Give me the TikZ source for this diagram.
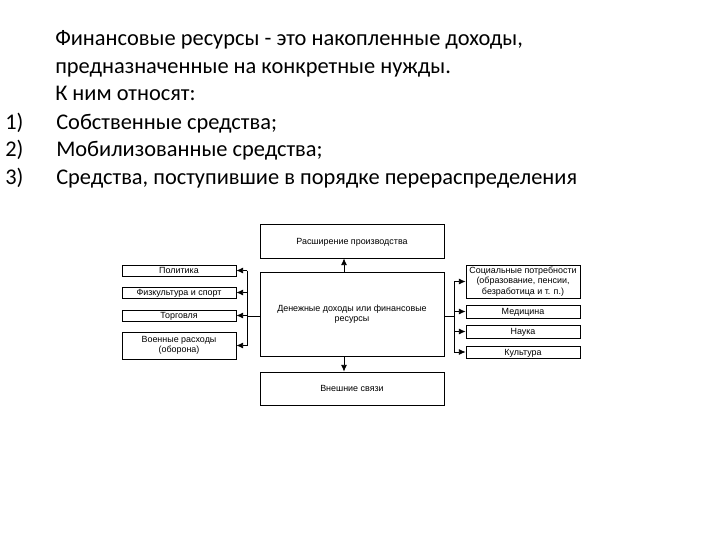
\documentclass[tikz,border=0pt]{standalone}
\usepackage{fontspec}
\setmainfont{Carlito}
\newfontfamily\diafont{Liberation Sans}
\usetikzlibrary{arrows.meta}
\begin{document}
\begin{tikzpicture}[x=0.75pt,y=-0.75pt,
  box/.style 2 args={draw=black,line width=0.6pt,inner sep=0pt,align=center,
    minimum width=#1*0.75pt,minimum height=#2*0.75pt,
    font=\diafont\fontsize{6.7}{7.8}\selectfont},
  one/.style={text height=4.8pt,text depth=0.3pt},
  conn/.style={line width=0.6pt},
  arr/.style={line width=0.6pt,-{Latex[length=5pt,width=4.5pt]}},
  maintext/.style={anchor=base west,inner sep=0pt,font=\fontsize{16.8}{20}\selectfont}]
\useasboundingbox (0,0) rectangle (720,540);
% header text
\node[maintext] (l1) at (55,45) {Финансовые ресурсы - это накопленные доходы,};
\node[maintext] (l2) at (55,73) {предназначенные на конкретные нужды.};
\node[maintext] (l3) at (55,100) {К ним относят:};
\node[maintext] (n1) at (5,129) {1)};
\node[maintext] (n2) at (5,156) {2)};
\node[maintext] (n3) at (5,184) {3)};
\node[maintext] (t1) at (56,129) {Собственные средства;};
\node[maintext] (t2) at (56,156) {Мобилизованные средства;};
\node[maintext] (t3) at (56,184) {Средства, поступившие в порядке перераспределения};
% central column
\node[box={184}{34},one] (top) at (352,241) {Расширение производства};
\node[box={184}{84}] (center) at (352,314) {Денежные доходы или финансовые\\ресурсы};
\node[box={184}{33},one] (bottom) at (352,388.5) {Внешние связи};
% left boxes
\node[box={114}{11},one] (pol) at (179,270.5) {Политика};
\node[box={114}{11},one] (fiz) at (179,292.5) {Физкультура и спорт};
\node[box={114}{11},one] (tor) at (179,315.5) {Торговля};
\node[box={114}{27}] (voen) at (179,345.5) {Военные расходы\\(оборона)};
% right boxes
\node[box={114}{33}] (soc) at (523,281.5) {Социальные потребности\\(образование, пенсии,\\безработица и т. п.)};
\node[box={114}{13},one] (med) at (523,311.5) {Медицина};
\node[box={114}{13},one] (nau) at (523,331.5) {Наука};
\node[box={114}{12},one] (kul) at (523,352) {Культура};
% buses
\coordinate (lb) at (247,316);
\coordinate (rb) at (454,316);
\draw[conn] (center.west |- lb) -- (lb);
\draw[conn] (lb |- pol.east) -- (lb |- voen.east);
\draw[conn] (center.east |- rb) -- (rb);
\draw[conn] (rb |- soc.west) -- (rb |- kul.west);
% left arrows
\foreach \b in {pol,fiz,tor,voen} \draw[arr] (lb |- \b.east) -- (\b.east);
% right arrows
\foreach \b in {soc,med,nau,kul} \draw[arr] (rb |- \b.west) -- (\b.west);
% vertical arrows
\draw[arr] ([xshift=-6pt]center.north) -- ([xshift=-6pt]top.south);
\draw[arr] ([xshift=-6pt]center.south) -- ([xshift=-6pt]bottom.north);
\end{tikzpicture}
\end{document}
